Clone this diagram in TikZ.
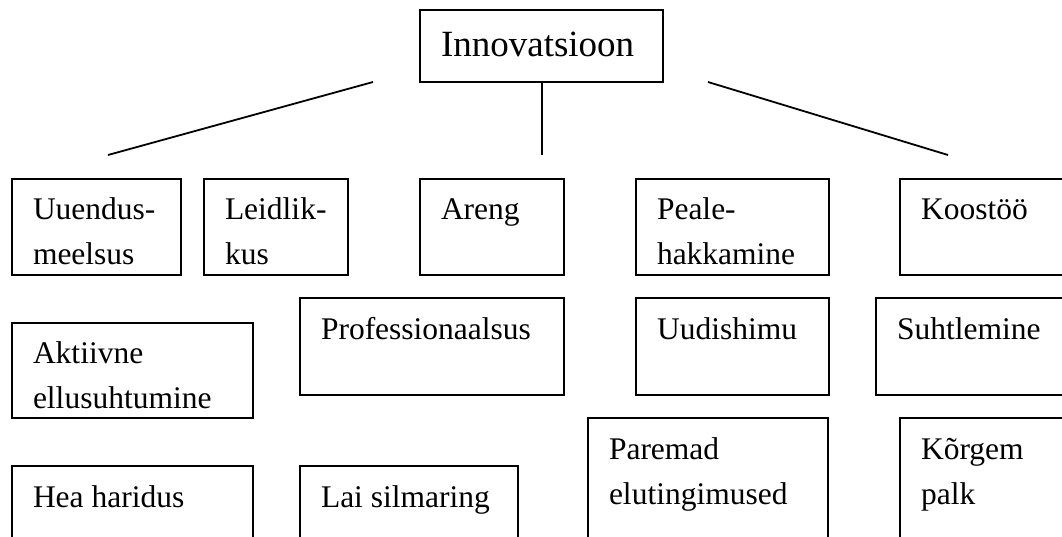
\documentclass[tikz,border=0pt]{standalone}
\usepackage{fontspec}
\setmainfont{Liberation Serif}
\usetikzlibrary{calc}
\tikzset{
  box/.style={draw, line width=1.5pt, anchor=north west, inner sep=0pt, outer sep=0pt},
  lbl/.style={anchor=base west, inner sep=0pt, outer sep=0pt, font=\fontsize{31.5}{45}\selectfont},
  toplbl/.style={anchor=base west, inner sep=0pt, outer sep=0pt, font=\fontsize{37}{44}\selectfont},
  conn/.style={line width=1.8pt}
}
\newcommand{\twol}[2]{\begin{tabular}[t]{@{}l@{}}#1\\#2\end{tabular}}
\begin{document}
\begin{tikzpicture}[x=1pt,y=-1pt]
\clip (0,0) rectangle (1062,536);
\fill[white] (0,0) rectangle (1062,536);
% top
\node[box, minimum width=243pt, minimum height=72pt] (top) at (420,10) {};
\node[toplbl] (toptxt) at ($(top.north west)+(21,46)$) {Innovatsioon};
% connectors
\coordinate (c1s) at ($(top.south west)+(-47,0)$);
\coordinate (c1e) at (108,155);
\coordinate (c2s) at ($(top.south)+(0.5,0)$);
\coordinate (c2e) at (542,155);
\coordinate (c3s) at ($(top.south east)+(45,0)$);
\coordinate (c3e) at (948,155);
\draw[conn] (c1s) -- (c1e);
\draw[conn, line width=2pt] (c2s) -- (c2e);
\draw[conn] (c3s) -- (c3e);
% row 1
\node[box, minimum width=169pt, minimum height=96pt] (uu) at (12,179) {};
\node[lbl] (uut) at ($(uu.north west)+(21,40)$) {\twol{Uuendus-}{meelsus}};
\node[box, minimum width=144pt, minimum height=96pt] (le) at (204,179) {};
\node[lbl] (let) at ($(le.north west)+(21,40)$) {\twol{Leidlik-}{kus}};
\node[box, minimum width=144pt, minimum height=96pt] (ar) at (420,179) {};
\node[lbl] (art) at ($(ar.north west)+(21,40)$) {Areng};
\node[box, minimum width=193pt, minimum height=96pt] (pe) at (636,179) {};
\node[lbl] (pet) at ($(pe.north west)+(21,40)$) {\twol{Peale-}{hakkamine}};
\node[box, minimum width=180pt, minimum height=96pt] (ko) at (900,179) {};
\node[lbl] (kot) at ($(ko.north west)+(21,40)$) {Koostöö};
% row 2
\node[box, minimum width=241pt, minimum height=95pt] (ak) at (12,323) {};
\node[lbl] (akt) at ($(ak.north west)+(21,40)$) {\twol{Aktiivne}{ellusuhtumine}};
\node[box, minimum width=264pt, minimum height=97pt] (pr) at (300,298) {};
\node[lbl] (prt) at ($(pr.north west)+(21,41)$) {Professionaalsus};
\node[box, minimum width=193pt, minimum height=97pt] (ud) at (636,298) {};
\node[lbl] (udt) at ($(ud.north west)+(21,41)$) {Uudishimu};
\node[box, minimum width=200pt, minimum height=97pt] (su) at (876,298) {};
\node[lbl] (sut) at ($(su.north west)+(21,41)$) {Suhtlemine};
% row 3
\node[box, minimum width=240pt, minimum height=140pt] (pa) at (588,418) {};
\node[lbl] (pat) at ($(pa.north west)+(21,41)$) {\twol{Paremad}{elutingimused}};
\node[box, minimum width=180pt, minimum height=140pt] (kg) at (900,418) {};
\node[lbl] (kgt) at ($(kg.north west)+(21,41)$) {\twol{Kõrgem}{palk}};
\node[box, minimum width=241pt, minimum height=100pt] (he) at (12,466) {};
\node[lbl] (het) at ($(he.north west)+(21,41)$) {Hea haridus};
\node[box, minimum width=218pt, minimum height=100pt] (la) at (300,466) {};
\node[lbl] (lat) at ($(la.north west)+(21,41)$) {Lai silmaring};
\end{tikzpicture}
\end{document}
